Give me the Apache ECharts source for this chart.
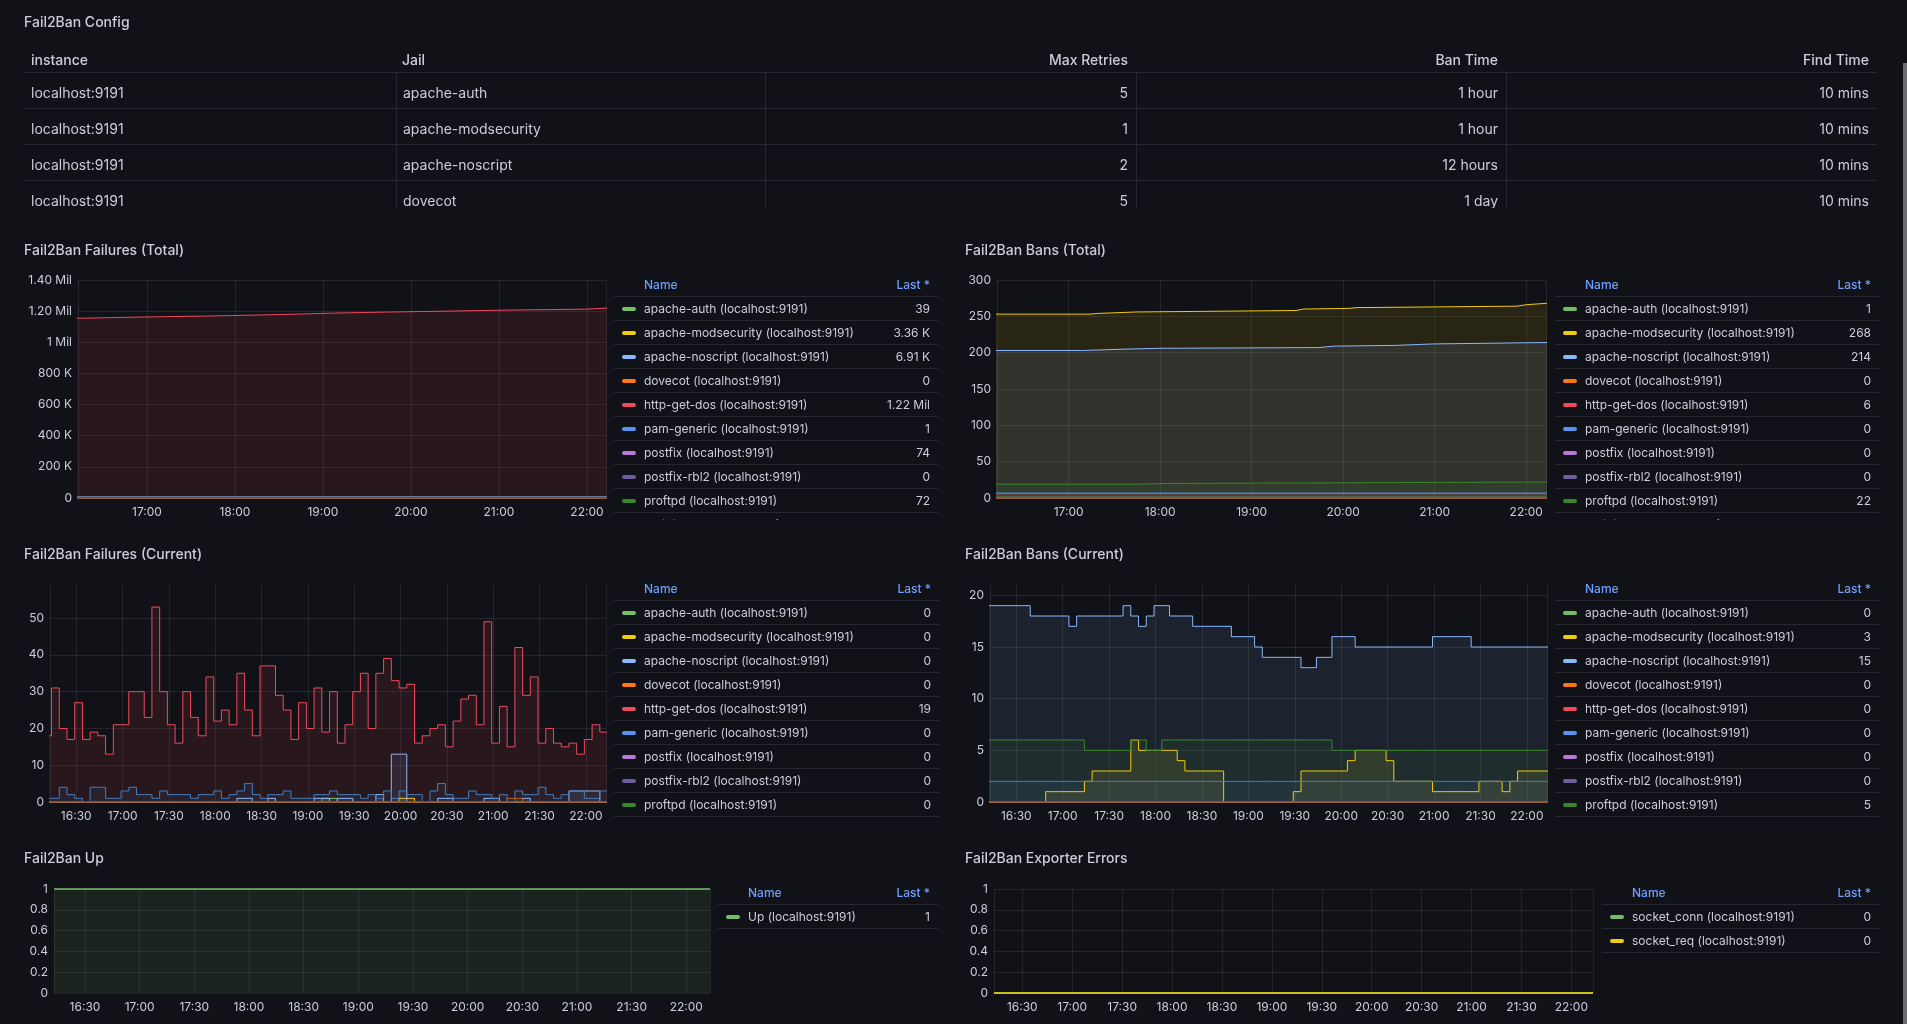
<!DOCTYPE html>
<html>
<head>
<meta charset="utf-8">
<script src="https://cdn.jsdelivr.net/npm/echarts@6/dist/echarts.min.js"></script>
<style>
html, body { margin: 0; padding: 0; background: #111217; }
body { width: 1907px; height: 1024px; overflow: hidden; position: relative; font-family: Inter, sans-serif; color: #ccccdc; }
#main { position: absolute; left: 0; top: 0; width: 1907px; height: 1024px; }
.title { position: absolute; font-size: 14px; font-weight: 500; line-height: 16px; white-space: nowrap; }
.cfg { position: absolute; left: 24px; top: 47px; width: 1853px; height: 161px; overflow: hidden; font-size: 14px; }
.cfg .tr { display: flex; box-sizing: border-box; border-bottom: 1px solid rgba(204,204,220,0.12); }
.cfg .hd { height: 26px; font-weight: 500; }
.cfg .bd { height: 36px; }
.cfg .c { box-sizing: border-box; display: flex; align-items: center; padding: 0 8px 0 6px; white-space: nowrap; }
.cfg .bd .c { padding-top: 4px; }
.cfg .bd .c + .c { border-left: 1px solid rgba(204,204,220,0.12); }
.cfg .num { justify-content: flex-end; }
.lg { position: absolute; overflow: hidden; font-size: 12px; }
.lg .row { display: flex; align-items: center; height: 24px; box-sizing: border-box; border-bottom: 1px solid rgba(204,204,220,0.12); }
.lg .hd { color: #6E9FFF; font-weight: 500; }
.lg .mk { width: 14px; height: 4px; border-radius: 2px; margin: 0 8px; flex: none; }
.lg .nm { flex: 1; white-space: nowrap; overflow: hidden; }
.lg .vl { padding-right: 8px; white-space: nowrap; }
.scroll { position: absolute; left: 1903px; top: 63px; width: 4px; height: 961px; background: #6c6d72; }
</style>
</head>
<body>
<div id="main"></div>

<div class="title" style="left:24px;top:14px">Fail2Ban Config</div>
<div class="title" style="left:24px;top:242px">Fail2Ban Failures (Total)</div>
<div class="title" style="left:965px;top:242px">Fail2Ban Bans (Total)</div>
<div class="title" style="left:24px;top:546px">Fail2Ban Failures (Current)</div>
<div class="title" style="left:965px;top:546px">Fail2Ban Bans (Current)</div>
<div class="title" style="left:24px;top:850px">Fail2Ban Up</div>
<div class="title" style="left:965px;top:850px">Fail2Ban Exporter Errors</div>

<div class="cfg" id="cfg"></div>
<div class="lg" id="lgFt" style="left:614px;top:273px;width:324px;height:247px"></div>
<div class="lg" id="lgBt" style="left:1555px;top:273px;width:324px;height:247px"></div>
<div class="lg" id="lgFc" style="left:614px;top:577px;width:325px;height:246px"></div>
<div class="lg" id="lgBc" style="left:1555px;top:577px;width:324px;height:246px"></div>
<div class="lg" id="lgUp" style="left:718px;top:881px;width:220px;height:60px"></div>
<div class="lg" id="lgErr" style="left:1602px;top:881px;width:277px;height:80px"></div>
<div class="scroll"></div>

<script>
// config table
var cfgHead = ['instance', 'Jail', 'Max Retries', 'Ban Time', 'Find Time'];
var cfgInstance = ['localhost:9191', 'localhost:9191', 'localhost:9191', 'localhost:9191'];
var cfgJail = ['apache-auth', 'apache-modsecurity', 'apache-noscript', 'dovecot'];
var cfgMaxRetry = ['5', '1', '2', '5'];
var cfgBanTime = ['1 hour', '1 hour', '12 hours', '1 day'];
var cfgFindTime = ['10 mins', '10 mins', '10 mins', '10 mins'];

// jails + grafana classic palette
var jails = ['apache-auth', 'apache-modsecurity', 'apache-noscript', 'dovecot', 'http-get-dos', 'pam-generic',
    'postfix', 'postfix-rbl2', 'proftpd', 'recidive', 'sshd', 'vsftpd', 'wordpress'];
var palette = ['#73BF69', '#F2CC0C', '#8AB8FF', '#FF780A', '#F2495C', '#5794F2', '#B877D9', '#705DA0',
    '#37872D', '#FADE2A', '#447EBC', '#C15C17', '#890F02'];

// legend "Last *" columns (first 10 rows are visible)
var ftLast = ['39', '3.36 K', '6.91 K', '0', '1.22 Mil', '1', '74', '0', '72', '98'];
var btLast = ['1', '268', '214', '0', '6', '0', '0', '0', '22', '0'];
var fcLast = ['0', '0', '0', '0', '19', '0', '0', '0', '0', '0'];
var bcLast = ['0', '3', '15', '0', '0', '0', '0', '0', '5', '0'];

// Failures (Total)
var ftHttpT = ['16:09', '16:19', '16:55', '17:44', '18:15', '18:44', '19:05', '19:44', '20:24', '21:00', '22:00'];
var ftHttpV = [1155000, 1162000, 1169000, 1175000, 1181000, 1187000, 1194000, 1200000, 1206000, 1213000, 1220000];
var ftFlat = [39, 3360, 6910, 0, 0, 1, 74, 0, 72, 98, 2100, 0, 0];

// Bans (Total)
var btModsecT = ['16:09', '17:14', '17:19', '17:44', '19:29', '19:34', '20:04', '20:09', '21:54', '22:00'];
var btModsecV = [253, 254, 256, 258, 260, 261, 262, 264, 266, 268];
var btNoscriptT = ['16:09', '17:09', '17:39', '17:59', '19:44', '19:54', '20:34', '20:59'];
var btNoscriptV = [203, 205, 206, 207, 209, 210, 212, 214];
var btProftpdT = ['16:09', '17:44', '18:04'];
var btProftpdV = [19, 20, 22];
var btFlat = [1, 0, 0, 0, 6, 0, 0, 0, 0, 0, 7, 0, 0];

// Failures (Current), 5 minute slots from 16:09
var fcHttp = [18, 31, 20, 17, 27, 17, 19, 18, 13, 21, 21, 30, 30, 23, 53, 30, 21, 16, 30, 23, 18, 34, 22, 25,
    21, 35, 25, 18, 37, 37, 29, 25, 17, 27, 20, 31, 19, 30, 16, 21, 30, 35, 20, 35, 39, 33, 31, 32, 16, 18,
    20, 21, 15, 22, 28, 29, 21, 49, 16, 26, 15, 42, 29, 34, 16, 20, 16, 15, 16, 13, 17, 21, 19];
var fcSshd = [1, 1, 4, 2, 1, 0, 4, 4, 1, 1, 3, 4, 2, 2, 1, 3, 2, 2, 2, 1, 2, 2, 3, 1, 2, 3, 5, 2, 1, 2, 2, 3,
    1, 1, 1, 2, 2, 3, 2, 2, 2, 1, 2, 1, 3, 1, 3, 2, 2, 0, 3, 5, 2, 1, 1, 3, 2, 2, 1, 2, 0, 3, 2, 2, 4, 2, 1,
    2, 3, 3, 1, 1, 3];
var fcNoscript = [0, 0, 0, 0, 0, 0, 0, 0, 0, 0, 0, 0, 0, 0, 0, 0, 0, 0, 0, 0, 0, 0, 0, 0, 0, 1, 1, 0, 0, 1,
    0, 0, 0, 0, 0, 1, 1, 0, 1, 1, 0, 0, 0, 2, 0, 13, 13, 0, 0, 0, 0, 1, 1, 0, 0, 0, 0, 1, 1, 0, 0, 0, 1, 0,
    0, 0, 0, 0, 3, 3, 3, 3, 0];
var fcAuthT = ['16:09', '19:09', '19:19'];
var fcAuthV = [0, 1, 0];
var fcModsecT = ['16:09', '19:59', '20:09'];
var fcModsecV = [0, 1, 0];
var fcVsftpdT = ['16:09', '21:09', '21:19'];
var fcVsftpdV = [0, 1, 0];

// Bans (Current), 5 minute slots from 16:09
var bcNoscript = [19, 19, 19, 19, 19, 19, 18, 18, 18, 18, 18, 17, 18, 18, 18, 18, 18, 18, 19, 18, 17, 18, 19,
    19, 18, 18, 18, 17, 17, 17, 17, 17, 16, 16, 16, 15, 14, 14, 14, 14, 14, 13, 13, 14, 14, 16, 16, 16, 15,
    15, 15, 15, 15, 15, 15, 15, 15, 15, 16, 16, 16, 16, 16, 15, 15, 15, 15, 15, 15, 15, 15, 15, 15];
var bcModsec = [0, 0, 0, 0, 0, 0, 0, 0, 1, 1, 1, 1, 1, 2, 3, 3, 3, 3, 3, 6, 5, 5, 5, 5, 5, 4, 3, 3, 3, 3, 3,
    0, 0, 0, 0, 0, 0, 0, 0, 0, 1, 3, 3, 3, 3, 3, 3, 4, 5, 5, 5, 5, 4, 2, 2, 2, 2, 2, 1, 1, 1, 1, 1, 1, 2, 2,
    2, 1, 2, 3, 3, 3, 3];
var bcProftpd = [6, 6, 6, 6, 6, 6, 6, 6, 6, 6, 6, 6, 6, 5, 5, 5, 5, 5, 5, 6, 6, 5, 5, 6, 6, 6, 6, 6, 6, 6, 6,
    6, 6, 6, 6, 6, 6, 6, 6, 6, 6, 6, 6, 6, 6, 5, 5, 5, 5, 5, 5, 5, 5, 5, 5, 5, 5, 5, 5, 5, 5, 5, 5, 5, 5, 5,
    5, 5, 5, 5, 5, 5, 5];
var bcSshd = 2;

// Up / exporter errors
var upV = 1;
var errNames = ['socket_conn', 'socket_req'];
var errColors = ['#73BF69', '#F2CC0C'];
var errV = [0, 0];

var slotStart = '16:09';
var viewStart = '16:13';
var viewEnd = '22:13';
var gridColor = 'rgba(204,204,220,0.1)';

var at = function (hm) {
    var p = hm.split(':');
    return new Date(2024, 4, 10, +p[0], +p[1]).getTime();
};
var endT = at(viewEnd) + 60000;

var steps = function (times, vals) {
    var out = [];
    for (var i = 0; i < times.length; i++) out.push([at(times[i]), vals[i]]);
    out.push([endT, vals[vals.length - 1]]);
    return out;
};
var slots = function (vals) {
    var out = [];
    var t0 = at(slotStart);
    for (var i = 0; i < vals.length; i++) out.push([t0 + i * 300000, vals[i]]);
    out.push([endT, vals[vals.length - 1]]);
    return out;
};
var flat = function (v) {
    return steps([slotStart], [v]);
};
// whole visible window only, so it can be drawn unclipped on the panel edge
var span = function (v) {
    return [[at(viewStart), v], [at(viewEnd), v]];
};

// table
var cfgW = [372, 369, 371, 370, 371];
var cfgNum = [false, false, true, true, true];
var html = '<div class="tr hd">';
for (var c = 0; c < cfgHead.length; c++) {
    html += '<div class="c' + (cfgNum[c] ? ' num' : '') + '" style="width:' + cfgW[c] + 'px' + (c == 0 ? ';padding-left:7px' : '') + '">' + cfgHead[c] + '</div>';
}
html += '</div>';
for (var r = 0; r < cfgJail.length; r++) {
    var cells = [cfgInstance[r], cfgJail[r], cfgMaxRetry[r], cfgBanTime[r], cfgFindTime[r]];
    html += '<div class="tr bd">';
    for (var c = 0; c < cells.length; c++) {
        html += '<div class="c' + (cfgNum[c] ? ' num' : '') + '" style="width:' + cfgW[c] + 'px' + (c == 0 ? ';padding-left:7px' : '') + '">' + cells[c] + '</div>';
    }
    html += '</div>';
}
document.getElementById('cfg').innerHTML = html;

// legends
var legend = function (id, names, colors, values) {
    var h = '<div class="row hd"><span class="mk"></span><span class="nm">Name</span><span class="vl">Last *</span></div>';
    for (var i = 0; i < names.length; i++) {
        h += '<div class="row"><span class="mk" style="background:' + colors[i] + '"></span><span class="nm">' +
            names[i] + ' (localhost:9191)</span><span class="vl">' + values[i] + '</span></div>';
    }
    document.getElementById(id).innerHTML = h;
};
var lgNames = jails.slice(0, 10);
var lgColors = palette.slice(0, 10);
legend('lgFt', lgNames, lgColors, ftLast);
legend('lgBt', lgNames, lgColors, btLast);
legend('lgFc', lgNames, lgColors, fcLast);
legend('lgBc', lgNames, lgColors, bcLast);
legend('lgUp', ['Up'], ['#73BF69'], [String(upV)]);
legend('lgErr', errNames, errColors, errV.map(String));

// chart
var grids = [
    {left: 78, top: 280, width: 528, height: 218},
    {left: 997, top: 280, width: 549, height: 218},
    {left: 50, top: 585, width: 556, height: 217},
    {left: 990, top: 585, width: 557, height: 217},
    {left: 54, top: 889, width: 656, height: 104},
    {left: 994, top: 889, width: 599, height: 104}
];
// approx tick spacing; echarts rounds 31 min down to half hours
var xStep = [3600000, 3600000, 1860000, 1860000, 1860000, 1860000];
var yMax = [1400000, 300, 59, 21, 1, 1];
var yStep = [200000, 50, 10, 5, 0.2, 0.2];

var fmtBig = function (v) {
    if (v == 0) return '0';
    if (v < 1000000) return (v / 1000) + ' K';
    if (v == 1000000) return '1 Mil';
    return (v / 1000000).toFixed(2) + ' Mil';
};
var fmtSmall = function (v) {
    return String(Math.round(v * 10) / 10);
};

var xAxes = [], yAxes = [];
for (var g = 0; g < grids.length; g++) {
    grids[g].outerBoundsMode = 'none';
    xAxes.push({
        type: 'time', gridIndex: g,
        min: at(viewStart), max: at(viewEnd),
        minInterval: xStep[g], maxInterval: xStep[g],
        axisLine: {show: false}, axisTick: {show: false},
        axisLabel: {formatter: '{HH}:{mm}', color: '#ccccdc', fontSize: 12, fontFamily: 'Inter', margin: 8, hideOverlap: false},
        splitLine: {show: true, lineStyle: {color: gridColor, width: 1}}
    });
    yAxes.push({
        type: 'value', gridIndex: g, min: 0, max: yMax[g], interval: yStep[g],
        axisLine: {show: false}, axisTick: {show: false},
        axisLabel: {
            formatter: g == 0 ? fmtBig : fmtSmall, color: '#ccccdc', fontSize: 12, fontFamily: 'Inter', margin: 6,
            showMaxLabel: (g == 2 || g == 3) ? false : true
        },
        splitLine: {show: true, showMaxLine: !(g == 2 || g == 3), lineStyle: {color: gridColor, width: 1}}
    });
}

var mkLine = function (name, color, data, gi) {
    return {
        type: 'line', name: name, xAxisIndex: gi, yAxisIndex: gi, data: data,
        step: 'end', symbol: 'none', showSymbol: false, silent: true,
        lineStyle: {width: 1, color: color},
        itemStyle: {color: color},
        areaStyle: {color: color, opacity: 0.1}
    };
};

var series = [];
for (var i = 0; i < jails.length; i++) {
    // failures total
    series.push(mkLine(jails[i], palette[i], i == 4 ? steps(ftHttpT, ftHttpV) : flat(ftFlat[i]), 0));
    // bans total
    var bt;
    if (i == 1) bt = steps(btModsecT, btModsecV);
    else if (i == 2) bt = steps(btNoscriptT, btNoscriptV);
    else if (i == 8) bt = steps(btProftpdT, btProftpdV);
    else bt = flat(btFlat[i]);
    series.push(mkLine(jails[i], palette[i], bt, 1));
    // failures current
    var fc;
    if (i == 4) fc = slots(fcHttp);
    else if (i == 10) fc = slots(fcSshd);
    else if (i == 2) fc = slots(fcNoscript);
    else if (i == 0) fc = steps(fcAuthT, fcAuthV);
    else if (i == 1) fc = steps(fcModsecT, fcModsecV);
    else if (i == 11) fc = steps(fcVsftpdT, fcVsftpdV);
    else fc = flat(0);
    series.push(mkLine(jails[i], palette[i], fc, 2));
    // bans current
    var bc;
    if (i == 2) bc = slots(bcNoscript);
    else if (i == 1) bc = slots(bcModsec);
    else if (i == 8) bc = slots(bcProftpd);
    else if (i == 10) bc = flat(bcSshd);
    else bc = flat(0);
    series.push(mkLine(jails[i], palette[i], bc, 3));
}
var up = mkLine('Up', '#73BF69', span(upV), 4);
up.clip = false;
up.lineStyle.width = 1.5;
series.push(up);
for (var e = 0; e < errNames.length; e++) {
    var er = mkLine(errNames[e], errColors[e], span(errV[e]), 5);
    er.clip = false;
    er.lineStyle.width = 1.5;
    series.push(er);
}

var myChart = echarts.init(document.getElementById('main'));
myChart.setOption({
    backgroundColor: 'transparent',
    animation: false,
    textStyle: {fontFamily: 'Inter'},
    grid: grids,
    xAxis: xAxes,
    yAxis: yAxes,
    series: series
});
window.onresize = myChart.resize;
</script>
</body>
</html>
